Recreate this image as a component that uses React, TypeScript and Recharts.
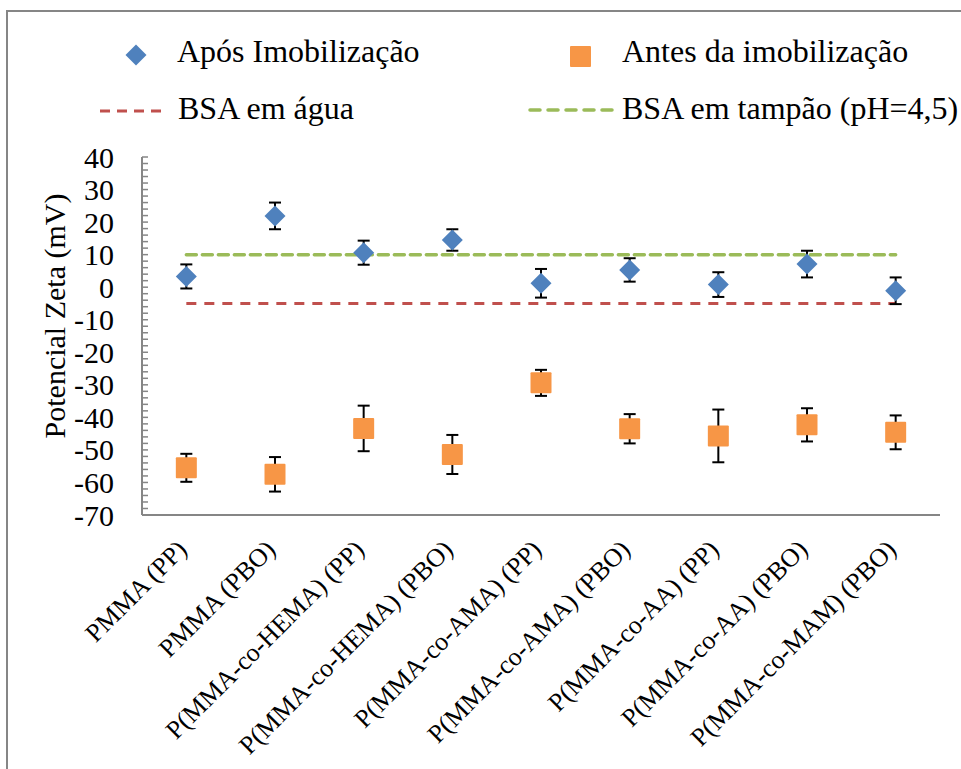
import React from "react";
import {
  ComposedChart,
  Scatter,
  Line,
  XAxis,
  YAxis,
  ErrorBar,
} from "recharts";

const amostras = [
  "PMMA (PP)",
  "PMMA (PBO)",
  "P(MMA-co-HEMA) (PP)",
  "P(MMA-co-HEMA) (PBO)",
  "P(MMA-co-AMA) (PP)",
  "P(MMA-co-AMA) (PBO)",
  "P(MMA-co-AA) (PP)",
  "P(MMA-co-AA) (PBO)",
  "P(MMA-co-MAM) (PBO)",
];

const apos = [3.3, 21.9, 10.6, 14.5, 1.2, 5.3, 0.8, 7.1, -1.1];
const aposErr = [3.7, 4.1, 3.7, 3.3, 4.4, 3.6, 3.8, 4.1, 4.1];
const antes = [-55.5, -57.5, -43.4, -51.4, -29.4, -43.5, -45.7, -42.3, -44.6];
const antesErr = [4.3, 5.3, 7.0, 6.0, 4.0, 4.5, 8.1, 5.1, 5.2];
const bsaAgua = [-5, -5, -5, -5, -5, -5, -5, -5, -5];
const bsaTampao = [10, 10, 10, 10, 10, 10, 10, 10, 10];

const yTicks = [
  -70, -68, -66, -64, -62, -60, -58, -56, -54, -52, -50, -48, -46, -44, -42,
  -40, -38, -36, -34, -32, -30, -28, -26, -24, -22, -20, -18, -16, -14, -12,
  -10, -8, -6, -4, -2, 0, 2, 4, 6, 8, 10, 12, 14, 16, 18, 20, 22, 24, 26, 28,
  30, 32, 34, 36, 38, 40,
];

const NOMES = {
  apos: "Após Imobilização",
  antes: "Antes da imobilização",
  agua: "BSA em água",
  tampao: "BSA em tampão (pH=4,5)",
};

const BLUE = "#4F81BD";
const ORANGE = "#F79646";
const RED = "#C0504D";
const GREEN = "#9BBB59";
const AXIS = "#868686";
const FONT = "'Liberation Serif'";

const data = amostras.map((name, i) => ({
  name,
  apos: apos[i],
  aposErr: aposErr[i],
  antes: antes[i],
  antesErr: antesErr[i],
  agua: bsaAgua[i],
  tampao: bsaTampao[i],
}));

const Diamond = (props: any) => {
  const { cx, cy } = props;
  const r = 10.5;
  return (
    <polygon
      points={`${cx},${cy - r} ${cx + r},${cy} ${cx},${cy + r} ${cx - r},${cy}`}
      fill={BLUE}
    />
  );
};

const Square = (props: any) => {
  const { cx, cy } = props;
  return <rect x={cx - 10.5} y={cy - 10.5} width={21} height={21} rx={1} fill={ORANGE} />;
};

const YTick = (props: any) => {
  const { x, y, payload } = props;
  const major = payload.value % 10 === 0;
  return (
    <g>
      <line x1={x} x2={x + 6} y1={y} y2={y} stroke={AXIS} strokeWidth={1.5} />
      {major && (
        <text
          x={x - 28}
          y={y}
          textAnchor="end"
          dominantBaseline="central"
          style={{ fontFamily: FONT, fontSize: 30 }}
          fill="#000"
        >
          {payload.value}
        </text>
      )}
    </g>
  );
};

const XTick = (props: any) => {
  const { x, y, payload } = props;
  const tx = x + 2;
  const ty = y + 36;
  return (
    <text
      x={tx}
      y={ty}
      transform={`rotate(-45, ${tx}, ${ty})`}
      textAnchor="end"
      style={{ fontFamily: FONT, fontSize: 26 }}
      fill="#000"
    >
      {payload.value}
    </text>
  );
};

const YLabel = () => (
  <text
    x={54}
    y={316}
    transform="rotate(-90, 54, 316)"
    textAnchor="middle"
    dominantBaseline="central"
    style={{ fontFamily: FONT, fontSize: 30 }}
    fill="#000"
  >
    Potencial Zeta (mV)
  </text>
);

const legText = (left: number, top: number) => ({
  position: "absolute" as const,
  left,
  top,
  fontFamily: FONT,
  fontSize: 32,
  lineHeight: "40px",
  whiteSpace: "nowrap" as const,
  color: "#000",
});

const Legenda = () => (
  <div style={{ position: "absolute", left: 0, top: 0, width: 961, height: 140 }}>
    <svg width={961} height={140} style={{ position: "absolute", left: 0, top: 0 }}>
      <polygon points="136,44.5 146.5,55 136,65.5 125.5,55" fill={BLUE} />
      <rect x={570} y={46} width={21} height={21} rx={1} fill={ORANGE} />
      <line x1={100} x2={164} y1={111} y2={111} stroke={RED} strokeWidth={3} strokeDasharray="10 7" />
      <line
        x1={530}
        x2={617}
        y1={110}
        y2={110}
        stroke={GREEN}
        strokeWidth={3.5}
        strokeDasharray="10 8"
        strokeLinecap="round"
      />
    </svg>
    <div style={legText(177, 31)}>{NOMES.apos}</div>
    <div style={legText(622, 31)}>{NOMES.antes}</div>
    <div style={legText(178, 88)}>{NOMES.agua}</div>
    <div style={legText(622, 88)}>{NOMES.tampao}</div>
  </div>
);

export default function App() {
  return (
    <div
      style={{
        position: "absolute",
        left: 0,
        top: 0,
        width: 961,
        height: 769,
        background: "#fff",
        overflow: "hidden",
      }}
    >
      <div
        style={{
          position: "absolute",
          left: 6,
          top: 10,
          width: 955,
          height: 759,
          borderLeft: `2px solid ${AXIS}`,
          borderTop: `2px solid ${AXIS}`,
        }}
      />
      <ComposedChart
        width={961}
        height={769}
        data={data}
        margin={{ top: 157, right: 21, bottom: 0, left: 0 }}
      >
        <XAxis
          dataKey="name"
          scale="band"
          interval={0}
          height={254}
          tickLine={false}
          tickSize={0}
          tickMargin={0}
          axisLine={{ stroke: AXIS, strokeWidth: 2 }}
          tick={<XTick />}
        />
        <YAxis
          type="number"
          domain={[-70, 40]}
          ticks={yTicks}
          interval={0}
          width={142}
          tickLine={false}
          tickSize={0}
          tickMargin={0}
          axisLine={{ stroke: AXIS, strokeWidth: 2 }}
          tick={<YTick />}
          label={<YLabel />}
        />
        <Line
          dataKey="agua"
          name={NOMES.agua}
          stroke={RED}
          strokeWidth={3}
          strokeDasharray="10 8"
          dot={false}
          activeDot={false}
          isAnimationActive={false}
        />
        <Line
          dataKey="tampao"
          name={NOMES.tampao}
          stroke={GREEN}
          strokeWidth={3.5}
          strokeDasharray="10 6"
          strokeLinecap="round"
          dot={false}
          activeDot={false}
          isAnimationActive={false}
        />
        <Scatter dataKey="apos" name={NOMES.apos} shape={<Diamond />} isAnimationActive={false}>
          <ErrorBar dataKey="aposErr" direction="y" width={6} stroke="#000" strokeWidth={2} />
        </Scatter>
        <Scatter dataKey="antes" name={NOMES.antes} shape={<Square />} isAnimationActive={false}>
          <ErrorBar dataKey="antesErr" direction="y" width={6} stroke="#000" strokeWidth={2} />
        </Scatter>
      </ComposedChart>
      <Legenda />
    </div>
  );
}
